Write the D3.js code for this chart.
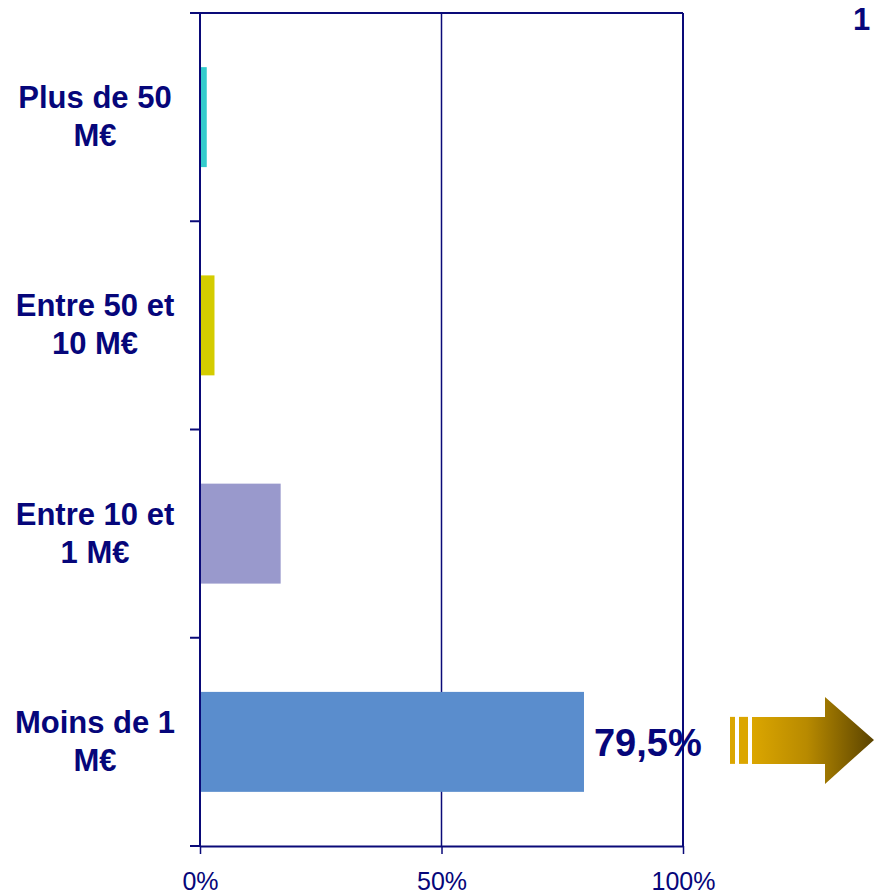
<!DOCTYPE html>
<html lang="fr">
  <head>
    <meta charset="utf-8">
    <script src="https://cdnjs.cloudflare.com/ajax/libs/d3/7.8.5/d3.min.js"></script>
    <style>
      body { margin: 0; background: #fff; }
      text { font-family: "Liberation Sans", Arial, sans-serif; fill: #06067a; }
      .cat text { font-weight: bold; font-size: 31px; }
      .x-axis text { font-size: 25px; }
      .frame line, .grid line { stroke: #0a0a78; }
    </style>
  </head>
  <body>
  <script>
  var width = 874,
      height = 894;

  // data
  var categories = ['Plus de 50 M€', 'Entre 50 et 10 M€', 'Entre 10 et 1 M€', 'Moins de 1 M€'];
  var labelLines = [['Plus de 50', 'M€'], ['Entre 50 et', '10 M€'], ['Entre 10 et', '1 M€'], ['Moins de 1', 'M€']];
  var shares = [1.4, 3.0, 16.7, 79.5];
  var barColors = ['#33cccc', '#d4cc00', '#9999cc', '#5a8dcd'];
  var xTicks = [0, 50, 100];
  var callout = '79,5%';
  var pageNum = '1';

  var plotLeft = 200, plotRight = 683, plotTop = 13, plotBottom = 846;
  var navy = '#0a0a78';

  var svg = d3.select('body').append('svg')
    .attr('width', width)
    .attr('height', height);

  var x = d3.scaleLinear().domain([0, 100]).range([plotLeft, plotRight]);
  var y = d3.scaleBand().domain(categories).range([plotTop, plotBottom])
    .paddingInner(0.52).paddingOuter(0.26);

  var defs = svg.append('defs');
  var grad = defs.append('linearGradient').attr('id', 'arrowGrad')
    .attr('x1', '0%').attr('x2', '100%');
  grad.append('stop').attr('offset', '0%').attr('stop-color', '#dba600');
  grad.append('stop').attr('offset', '45%').attr('stop-color', '#b88a00');
  grad.append('stop').attr('offset', '100%').attr('stop-color', '#5a4300');

  // gridline behind the bars
  svg.append('g').attr('class', 'grid')
    .append('line').attr('x1', x(50)).attr('x2', x(50)).attr('y1', plotTop).attr('y2', plotBottom).attr('stroke-width', 1.5);

  // bars
  svg.append('g').selectAll('rect')
    .data(categories)
    .enter().append('rect')
      .attr('x', x(0))
      .attr('y', d => y(d))
      .attr('width', (d, i) => x(shares[i]) - x(0))
      .attr('height', y.bandwidth())
      .attr('fill', (d, i) => barColors[i]);

  // frame and ticks
  var frame = svg.append('g').attr('class', 'frame');
  frame.append('line').attr('x1', plotLeft).attr('x2', plotRight).attr('y1', plotTop).attr('y2', plotTop).attr('stroke-width', 2);
  frame.append('line').attr('x1', plotRight).attr('x2', plotRight).attr('y1', plotTop).attr('y2', plotBottom).attr('stroke-width', 2);
  frame.append('line').attr('x1', plotLeft).attr('x2', plotLeft).attr('y1', plotTop).attr('y2', plotBottom).attr('stroke-width', 2);

  var gap = (y.step() - y.bandwidth()) / 2;
  var bounds = categories.map(d => y(d) - gap).concat([plotBottom]);
  frame.selectAll('.ytick')
    .data(bounds)
    .enter().append('line')
      .attr('x1', plotLeft - 10).attr('x2', plotLeft)
      .attr('y1', d => d).attr('y2', d => d)
      .attr('stroke-width', 2);

  var xAxis = svg.append('g')
    .attr('class', 'x-axis')
    .attr('transform', 'translate(0,' + plotBottom + ')')
    .call(d3.axisBottom(x).tickValues(xTicks).tickSize(8).tickSizeOuter(0).tickFormat(d => d + '%'));
  xAxis.attr('font-family', null).attr('font-size', null);
  xAxis.select('.domain').attr('stroke', navy).attr('stroke-width', 2);
  xAxis.selectAll('.tick line').attr('stroke', navy).attr('stroke-width', 1.5);
  xAxis.selectAll('.tick text').attr('fill', null).attr('dy', 0).attr('y', 44);

  // category labels
  var cat = svg.append('g').attr('class', 'cat');
  categories.forEach((c, i) => {
    var cy = y(c) + y.bandwidth() / 2;
    cat.append('text')
      .attr('text-anchor', 'middle')
      .selectAll('tspan')
      .data(labelLines[i])
      .enter().append('tspan')
        .attr('x', 95)
        .attr('y', (d, j) => cy - 9 + j * 38)
        .text(d => d);
  });

  // callout value + arrow
  var last = categories[categories.length - 1];
  var cyLast = y(last) + y.bandwidth() / 2;
  svg.append('text')
    .attr('x', x(shares[3]) + 10)
    .attr('y', cyLast + 14)
    .attr('font-weight', 'bold')
    .attr('font-size', 38)
    .text(callout);

  var ax = 730;
  svg.append('rect').attr('x', ax).attr('y', cyLast - 25).attr('width', 5).attr('height', 47).attr('fill', '#dba600');
  svg.append('rect').attr('x', ax + 9).attr('y', cyLast - 25).attr('width', 9).attr('height', 47).attr('fill', '#dba600');
  svg.append('path')
    .attr('d', 'M' + (ax + 22) + ',' + (cyLast - 25) +
      'H' + (ax + 95) + 'V' + (cyLast - 45) +
      'L' + (ax + 144) + ',' + (cyLast - 2) +
      'L' + (ax + 95) + ',' + (cyLast + 42) +
      'V' + (cyLast + 22) + 'H' + (ax + 22) + 'Z')
    .attr('fill', 'url(#arrowGrad)');

  svg.append('text')
    .attr('x', 853)
    .attr('y', 30)
    .attr('font-weight', 'bold')
    .attr('font-size', 31)
    .text(pageNum);
  </script>
  </body>
</html>
